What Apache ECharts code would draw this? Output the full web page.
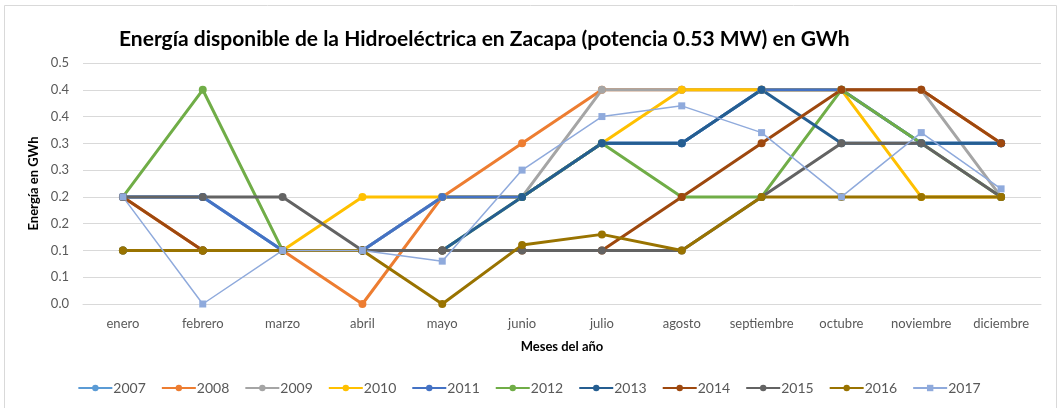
<!DOCTYPE html>
<html>
<head>
<meta charset="utf-8">
<script src="https://cdn.jsdelivr.net/npm/echarts@6/dist/echarts.min.js"></script>
<style>
  html, body { margin: 0; padding: 0; background: #fff; }
  #chart { width: 1058px; height: 408px; }
</style>
</head>
<body>
<div id="chart"></div>
<script>
// meses del eje x
const meses = ['enero', 'febrero', 'marzo', 'abril', 'mayo', 'junio', 'julio',
  'agosto', 'septiembre', 'octubre', 'noviembre', 'diciembre'];
// etiquetas del eje y (redondeo a un decimal, como en la hoja original)
const yLabels = ['0.0', '0.1', '0.1', '0.2', '0.2', '0.3', '0.3', '0.4', '0.4', '0.5'];

// energía por año (GWh)
const y2007 = [0.20, 0.20, 0.10, 0.10, 0.20, 0.20, 0.30, 0.30, 0.40, 0.40, 0.30, 0.30];
const y2008 = [0.20, 0.10, 0.10, 0.00, 0.20, 0.30, 0.40, 0.40, 0.40, 0.40, 0.40, 0.30];
const y2009 = [0.10, 0.10, 0.10, 0.10, 0.20, 0.20, 0.40, 0.40, 0.40, 0.40, 0.40, 0.20];
const y2010 = [0.10, 0.10, 0.10, 0.20, 0.20, 0.20, 0.30, 0.40, 0.40, 0.40, 0.20, 0.20];
const y2011 = [0.20, 0.20, 0.10, 0.10, 0.20, 0.20, 0.30, 0.30, 0.40, 0.40, 0.30, 0.30];
const y2012 = [0.20, 0.40, 0.10, 0.10, 0.10, 0.20, 0.30, 0.20, 0.20, 0.40, 0.30, 0.20];
const y2013 = [0.10, 0.10, 0.10, 0.10, 0.10, 0.20, 0.30, 0.30, 0.40, 0.30, 0.30, 0.30];
const y2014 = [0.20, 0.10, 0.10, 0.10, 0.10, 0.10, 0.10, 0.20, 0.30, 0.40, 0.40, 0.30];
const y2015 = [0.20, 0.20, 0.20, 0.10, 0.10, 0.10, 0.10, 0.10, 0.20, 0.30, 0.30, 0.20];
const y2016 = [0.10, 0.10, 0.10, 0.10, 0.00, 0.11, 0.13, 0.10, 0.20, 0.20, 0.20, 0.20];
const y2017 = [0.20, 0.00, 0.10, 0.10, 0.08, 0.25, 0.35, 0.37, 0.32, 0.20, 0.32, 0.215];

const anios = ['2007', '2008', '2009', '2010', '2011', '2012', '2013', '2014', '2015', '2016', '2017'];
const datos = [y2007, y2008, y2009, y2010, y2011, y2012, y2013, y2014, y2015, y2016, y2017];
const colores = ['#5B9BD5', '#ED7D31', '#A5A5A5', '#FFC000', '#4472C4', '#70AD47',
  '#255E91', '#9E480E', '#636363', '#997300', '#8FAADC'];

const font = 'Lato, "Open Sans", sans-serif';

const chart = echarts.init(document.getElementById('chart'));

const series = anios.map(function (a, i) {
  const ultimo = a === '2017';
  return {
    name: a,
    type: 'line',
    data: datos[i],
    symbol: ultimo ? 'rect' : 'circle',
    symbolSize: ultimo ? 7 : 8,
    showAllSymbol: true,
    color: colores[i],
    lineStyle: { width: ultimo ? 1.5 : 3, color: colores[i] },
    itemStyle: { color: colores[i] },
    emphasis: { disabled: true },
    animation: false
  };
});

chart.setOption({
  backgroundColor: '#fff',
  title: {
    text: 'Energía disponible de la Hidroeléctrica en Zacapa (potencia 0.53 MW) en GWh',
    left: 114,
    top: 24,
    textStyle: { fontFamily: font, fontSize: 21, fontWeight: 'bold', color: '#000' }
  },
  legend: {
    data: anios,
    bottom: 8,
    left: 'center',
    itemWidth: 34,
    itemHeight: 8,
    itemGap: 15,
    textStyle: { fontFamily: font, fontSize: 14, color: '#595959', padding: [0, 0, 0, -4] }
  },
  grid: { left: 83, right: 17, top: 63, bottom: 104 },
  xAxis: {
    type: 'category',
    data: meses,
    boundaryGap: true,
    name: 'Meses del año',
    nameLocation: 'middle',
    nameGap: 36,
    nameTextStyle: { fontFamily: font, fontSize: 13, fontWeight: 'bold', color: '#000' },
    axisLine: { show: true, lineStyle: { color: '#d9d9d9', width: 1 } },
    axisTick: { show: false },
    axisLabel: { fontFamily: font, fontSize: 13, color: '#595959', margin: 13, interval: 0 }
  },
  yAxis: {
    type: 'value',
    min: 0,
    max: 0.45,
    interval: 0.05,
    name: 'Energía en GWh',
    nameLocation: 'middle',
    nameGap: 42,
    nameTextStyle: { fontFamily: font, fontSize: 13, fontWeight: 'bold', color: '#000' },
    axisLine: { show: false },
    axisTick: { show: false },
    splitLine: { lineStyle: { color: '#d9d9d9', width: 1 } },
    axisLabel: {
      fontFamily: font, fontSize: 13, color: '#595959', margin: 14,
      formatter: function (v) { return yLabels[Math.round(v / 0.05)]; }
    }
  },
  graphic: [{
    type: 'rect',
    shape: { x: 4.5, y: 5.5, width: 1052, height: 410 },
    style: { fill: 'none', stroke: '#d9d9d9', lineWidth: 1 },
    silent: true
  }],
  series: series
});
</script>
</body>
</html>
